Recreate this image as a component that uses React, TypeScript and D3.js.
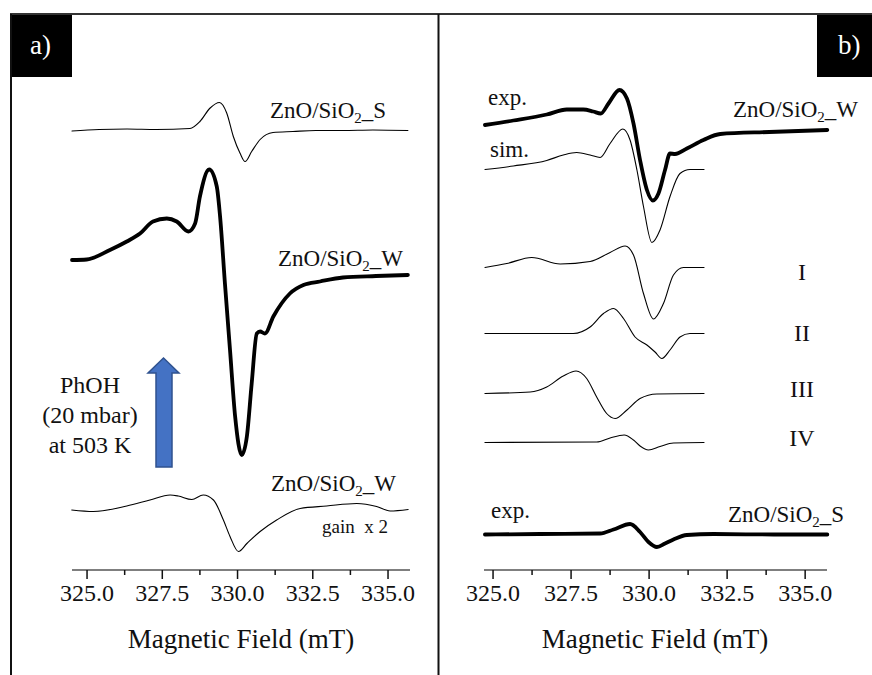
import * as d3 from 'd3';

// field (mT), intensity (a.u., relative to the trace baseline)
const aSampleS = [
  [324.5, -0.2], [325.4, 0.1], [326.33, 0.2], [327.3, 0.1], [328.42, 0.3], [328.75, 1.7],
  [329.09, 4.4], [329.4, 5.5], [329.64, 3.4], [329.86, -1.3], [330.08, -4.6],
  [330.25, -6.3], [330.47, -4.3], [330.75, -1.9], [331.18, -0.5], [331.84, -0.3],
  [332.6, -0.1], [333.5, -0.1], [334.5, 0], [335.66, -0.1]
];
const aSampleW = [
  [324.5, 2.0], [324.99, 2.1], [325.76, 4.0], [326.32, 5.7], [326.76, 7.3], [327.19, 9.7],
  [327.65, 10.3], [327.98, 9.7], [328.37, 7.7], [328.59, 9.3], [328.75, 14.7],
  [329.06, 20.1], [329.31, 16.7], [329.42, 10.7], [329.58, -2.6], [329.75, -16.0],
  [329.92, -29.3], [330.14, -37.0], [330.31, -33.3], [330.47, -22.7], [330.64, -12.7],
  [330.75, -12.3], [330.91, -12.7], [331.19, -9.3], [331.74, -4.7], [332.19, -3.0],
  [332.74, -2.3], [333.5, -1.5], [334.6, -1.2], [335.66, -1.0]
];
const aSampleWgain = [
  [324.49, 0], [325.21, -0.3], [326.32, 0.8], [327.09, 2.0], [327.76, 3.0], [328.03, 2.8],
  [328.48, 2.1], [328.86, 3.0], [329.2, 2.0], [329.53, -2.0], [329.75, -5.3],
  [330.03, -8.3], [330.31, -6.7], [330.75, -4.3], [331.3, -2.0], [332.08, 0.3],
  [332.96, 0.8], [333.96, 1.3], [334.62, 0.7], [335.07, -0.2], [335.67, 0.1]
];
const offsetsA = [88, 60, 12];

const bExpW = [
  [324.74, 1.0], [325.65, 1.9], [326.72, 3.1], [327.36, 4.1], [327.89, 4.1], [328.21, 3.7],
  [328.45, 3.3], [328.7, 5.3], [329.05, 8.0], [329.29, 6.3], [329.5, 1.3], [329.71, -6.0],
  [329.93, -12.0], [330.12, -14.1], [330.3, -12.7], [330.51, -8.0], [330.67, -4.7],
  [330.83, -4.8], [331.21, -3.7], [331.74, -2.0], [332.28, -0.8], [333.85, -0.4], [335.71, 0]
];
const bSimW = [
  [324.74, 0.1], [325.65, 0.8], [326.72, 1.9], [327.25, 3.0], [327.68, 3.5], [328.11, 3.0],
  [328.43, 2.5], [328.75, 5.3], [329.16, 8.2], [329.39, 6.0], [329.61, 0], [329.82, -7.3],
  [330.09, -14.5], [330.35, -12.0], [330.67, -5.3], [330.99, -0.7], [331.31, 0.1], [331.76, 0.1]
];
const bCompI = [
  [324.74, 0], [325.44, 0.8], [326.24, 2.0], [327.15, 0.7], [328.11, 1.2], [328.75, 3.0],
  [329.23, 4.3], [329.5, 2.5], [329.82, -5.2], [330.14, -10.3], [330.46, -7.2],
  [330.78, -1.5], [331.1, 0], [331.76, 0]
];
const bCompII = [
  [324.74, 0], [327.57, 0], [328.11, 1.3], [328.54, 4.0], [328.86, 5.0], [329.18, 3.0],
  [329.55, -0.7], [329.93, -2.3], [330.19, -3.7], [330.41, -5.0], [330.67, -3.3],
  [330.99, -0.7], [331.31, 0], [331.76, 0]
];
const bCompIII = [
  [324.74, 0], [326.19, 0.3], [326.72, 1.3], [327.25, 3.5], [327.66, 4.5], [328.0, 3.0],
  [328.32, -0.7], [328.64, -4.0], [328.91, -5.0], [329.29, -3.3], [329.71, -1.0],
  [330.25, -0.1], [331.76, 0]
];
const bCompIV = [
  [324.74, 0], [328.32, 0.1], [328.75, 0.9], [329.2, 1.5], [329.5, 0.5], [329.71, -0.7],
  [329.98, -1.5], [330.35, -0.8], [330.78, -0.1], [331.76, 0]
];
const bExpS = [
  [324.74, 0], [326.5, 0.1], [328.43, 0.2], [328.86, 1.0], [329.39, 2.1], [329.71, 0.5],
  [329.98, -1.5], [330.25, -2.5], [330.51, -1.8], [330.78, -1.0], [331.21, -0.1],
  [332.06, 0.1], [334.0, 0], [335.71, 0]
];
const offsetsB = [88, 80, 60.5, 47.3, 35.3, 25.5, 7.1];

const majorTicks = [325, 327.5, 330, 332.5, 335];
const minorTicks = [326.25, 328.75, 331.25, 333.75];
const romanLabels = ['I', 'II', 'III', 'IV'];

const SERIF = 'Liberation Serif';
const INK = '#111';

const y = d3.scaleLinear().domain([0, 98]).range([570, 80]);
const xA = d3.scaleLinear().domain([324.5, 335.73]).range([72, 410]);
const xB = d3.scaleLinear().domain([324.71, 335.7]).range([484, 827]);
const fmt = d3.format('.1f');

function Trace({ x, pts, off, w }) {
  const line = d3.line()
    .x(d => x(d[0]))
    .y(d => y(d[1] + off))
    .curve(d3.curveMonotoneX);
  return <path d={line(pts)} fill="none" stroke="#000" strokeWidth={w}
    strokeLinejoin="round" strokeLinecap="round" />;
}

function Axis({ x, cx }) {
  const [r0, r1] = x.range();
  return (
    <g>
      <line x1={r0} x2={r1} y1={570} y2={570} stroke="#555" strokeWidth={1.5} />
      {minorTicks.map(t => (
        <line key={t} x1={x(t)} x2={x(t)} y1={570} y2={575} stroke={INK} strokeWidth={1.5} />
      ))}
      {majorTicks.map(t => (
        <line key={t} x1={x(t)} x2={x(t)} y1={570} y2={579} stroke={INK} strokeWidth={1.5} />
      ))}
      {majorTicks.map(t => (
        <text key={'l' + t} x={x(t)} y={601} textAnchor="middle" fontSize={24} fill={INK}
          style={{ fontFamily: SERIF }}>{fmt(t)}</text>
      ))}
      <text x={cx} y={648} textAnchor="middle" fontSize={27} fill={INK}
        style={{ fontFamily: SERIF }}>Magnetic Field (mT)</text>
    </g>
  );
}

function Formula({ x0, y0, suffix }) {
  return (
    <text x={x0} y={y0} fontSize={23} fill={INK} style={{ fontFamily: SERIF }}>
      ZnO/SiO<tspan dy={5} fontSize={15}>2</tspan><tspan dy={-5}>{suffix}</tspan>
    </text>
  );
}

function Plain({ x0, y0, s, size, anchor = 'start' }) {
  return (
    <text x={x0} y={y0} textAnchor={anchor} fontSize={size} fill={INK}
      style={{ fontFamily: SERIF, whiteSpace: 'pre' }}>{s}</text>
  );
}

export default function App() {
  const tracesA = [aSampleS, aSampleW, aSampleWgain];
  const tracesB = [bExpW, bSimW, bCompI, bCompII, bCompIII, bCompIV, bExpS];
  const romanY = [280, 341, 397, 446];
  return (
    <svg width={872} height={675} fontFamily={SERIF}
      style={{ position: 'absolute', left: 0, top: 0, fontFamily: SERIF }}>
      <rect x={0} y={0} width={872} height={675} fill="#fff" />
      <line x1={10} x2={872} y1={14} y2={14} stroke="#333" strokeWidth={2} />
      <line x1={11} x2={11} y1={14} y2={675} stroke={INK} strokeWidth={2} />
      <line x1={438.5} x2={438.5} y1={14} y2={675} stroke={INK} strokeWidth={2} />

      <rect x={12} y={15} width={60} height={62} fill="#000" />
      <text x={30} y={54} fill="#fff" fontSize={27} style={{ fontFamily: SERIF }}>a)</text>
      <rect x={817} y={15} width={55} height={62} fill="#000" />
      <text x={838} y={54} fill="#fff" fontSize={27} style={{ fontFamily: SERIF }}>b)</text>

      <Axis x={xA} cx={241} />
      <Axis x={xB} cx={655} />

      {tracesA.map((pts, i) => (
        <Trace key={i} x={xA} pts={pts} off={offsetsA[i]} w={i === 1 ? 3.8 : 1.1} />
      ))}
      {tracesB.map((pts, i) => (
        <Trace key={i} x={xB} pts={pts} off={offsetsB[i]} w={i === 0 || i === 6 ? 3.8 : 1.1} />
      ))}

      <Formula x0={270} y0={118} suffix="_S" />
      <Formula x0={278} y0={266} suffix="_W" />
      <Formula x0={271} y0={491} suffix="_W" />
      <Plain x0={322} y0={533} s="gain  x 2" size={19} />
      <Plain x0={90} y0={393} s="PhOH" size={24} anchor="middle" />
      <Plain x0={90} y0={423} s="(20 mbar)" size={24} anchor="middle" />
      <Plain x0={90} y0={453} s="at 503 K" size={24} anchor="middle" />
      <path d="M156,467 L156,373 L148,373 L163.5,358 L179,373 L172,373 L172,467 Z"
        fill="#4472C4" stroke="#2F528F" strokeWidth={1.5} />

      <Plain x0={488} y0={105} s="exp." size={23} />
      <Plain x0={490} y0={157} s="sim." size={23} />
      <Formula x0={733} y0={117} suffix="_W" />
      {romanLabels.map((r, i) => (
        <Plain key={r} x0={802} y0={romanY[i]} s={r} size={24} anchor="middle" />
      ))}
      <Plain x0={491} y0={518} s="exp." size={23} />
      <Formula x0={728} y0={522} suffix="_S" />
    </svg>
  );
}
